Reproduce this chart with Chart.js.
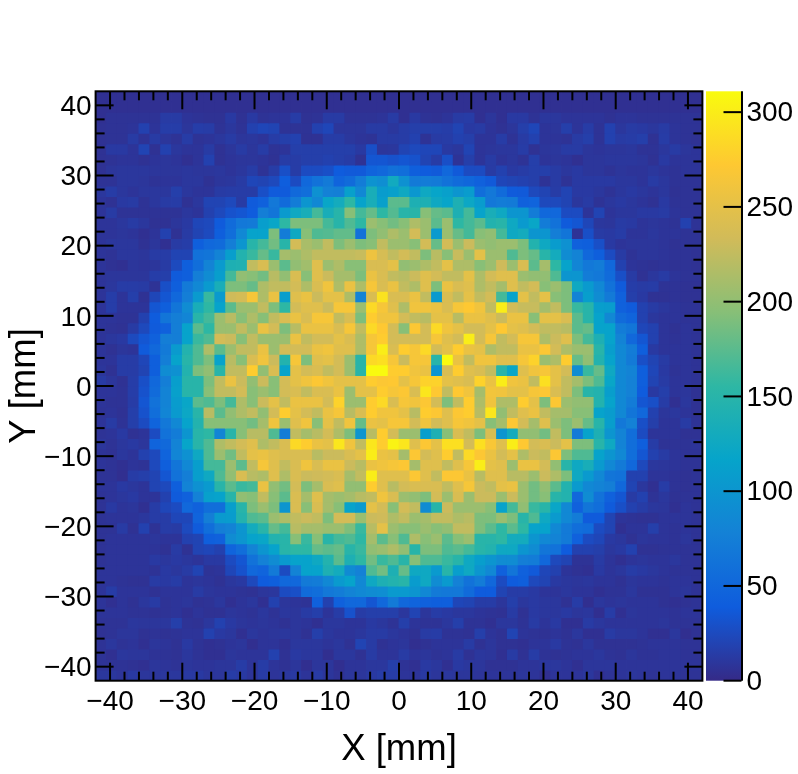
<!DOCTYPE html>
<html>
<head>
<meta charset="utf-8">
<script src="https://cdn.jsdelivr.net/npm/chart.js@4"></script>
<style>html,body{margin:0;padding:0;background:#fff}canvas{display:block}</style>
</head>
<body>
<canvas id="c" width="798" height="774"></canvas>
<script>
const binEdges = [-42,-40.5,-39,-37.5,-36,-34.5,-33,-31.5,-30,-28.5,-27,-25.5,-24,-22.5,-21,-19.5,-18,-16.5,-15,-13.5,-12,-10.5,-9,-7.5,-6,-4.5,-3,-1.5,0,1.5,3,4.5,6,7.5,9,10.5,12,13.5,15,16.5,18,19.5,21,22.5,24,25.5,27,28.5,30,31.5,33,34.5,36,37.5,39,40.5,42];
const majorTicks = [-40,-30,-20,-10,0,10,20,30,40];
const minorTicks = [-38,-36,-34,-32,-28,-26,-24,-22,-18,-16,-14,-12,-8,-6,-4,-2,2,4,6,8,12,14,16,18,22,24,26,28,32,34,36,38];
const colorTicks = [0,50,100,150,200,250,300];
const colorMax = 311;
const xTitle = "X [mm]";
const yTitle = "Y [mm]";
const paletteStops = ["#352a87","#0f5cdd","#1481d6","#06a4ca","#2eb7a4","#87bf77","#d1bb59","#fec832","#f9fb0e"];

// counts per row, top row (Y = +42) first; each row runs from X = -42 to X = +42
const row00 = [5,5,5,5,5,5,5,5,5,5,5,5,5,5,5,5,5,5,5,5,5,5,5,5,5,5,5,5, 5,5,5,5,5,5,5,5,5,5,5,5,5,5,5,5,5,5,5,5,5,5,5,5,5,5,5,5];
const row01 = [5,5,5,5,5,5,5,5,5,5,5,5,5,5,5,5,5,5,5,5,5,5,5,5,5,5,5,5, 5,5,5,5,5,5,5,5,5,5,5,5,5,5,5,5,5,5,5,5,5,5,5,5,5,5,5,5];
const row02 = [5,7,7,7,7,7,13,13,8,7,6,6,12,6,12,7,8,8,14,6,7,13,13,7,7,7,8,13, 5,12,7,6,8,13,14,5,9,5,12,12,7,10,10,8,8,8,8,6,8,8,7,7,7,7,7,7];
const row03 = [6,7,7,8,18,8,15,15,9,15,14,7,10,7,18,22,20,7,7,7,18,22,9,9,9,13,13,10, 14,16,16,16,15,20,12,13,8,6,9,16,22,8,9,16,8,14,7,18,10,13,12,10,13,8,7,7];
const row04 = [6,7,7,13,7,13,9,7,14,7,8,10,13,9,10,8,14,16,18,6,6,14,14,10,8,7,13,13, 14,18,7,13,14,18,16,8,8,14,7,13,18,8,8,7,13,16,7,18,13,14,16,6,14,8,7,6];
const row05 = [6,12,12,8,20,6,18,10,8,8,13,6,9,13,9,14,7,8,16,16,16,16,16,16,12,29,9,10, 20,24,22,22,12,10,20,8,9,10,10,14,6,9,10,13,13,9,8,9,9,10,7,7,10,13,9,8];
const row06 = [6,7,8,8,6,8,9,8,5,8,18,6,8,9,9,8,6,14,14,16,16,18,16,14,6,34,34,31, 34,31,20,14,29,7,16,8,13,8,10,7,16,8,9,8,5,9,9,10,10,10,9,6,12,8,8,8];
const row07 = [6,9,10,10,10,9,9,9,10,9,9,10,8,10,14,7,14,29,14,26,26,29,39,37,37,47,51,60, 58,42,39,37,51,37,26,26,13,18,12,14,16,16,13,10,12,9,9,7,9,8,8,10,8,7,8,8];
const row08 = [7,7,10,10,9,7,8,8,10,10,6,9,10,13,22,20,24,41,26,51,62,70,47,55,72,98,92,128, 95,70,72,70,62,55,50,44,37,22,20,18,16,7,13,7,12,12,12,12,10,10,8,13,10,7,7,7];
const row09 = [10,14,10,8,10,10,10,16,10,8,8,13,14,14,14,29,38,38,53,58,95,78,76,112,85,135,108,112, 125,102,125,118,112,100,108,58,68,55,38,37,24,20,14,20,12,12,10,7,10,12,10,8,10,6,7,7];
const row10 = [8,6,12,13,7,10,13,14,6,10,20,20,24,13,38,44,68,55,72,100,85,120,130,155,115,135,112,175, 175,140,140,125,118,140,122,108,68,72,70,44,47,24,24,20,10,13,7,10,12,10,8,6,12,7,7,7];
const row11 = [8,13,7,7,7,7,7,7,10,8,18,24,31,34,39,75,65,105,125,135,165,135,150,195,165,180,155,172, 150,150,195,180,175,140,165,115,135,125,100,100,72,51,51,26,26,8,20,8,10,10,12,12,13,8,7,7];
const row12 = [8,8,10,13,10,6,6,9,12,22,24,38,55,68,70,110,120,155,190,190,190,165,150,170,155,205,195,185, 195,215,205,175,205,155,165,175,145,150,125,105,120,72,62,38,34,22,10,9,13,12,8,9,8,7,18,7];
const row13 = [8,8,9,8,5,8,18,6,13,20,25,42,58,85,115,115,190,72,125,195,170,172,178,178,62,190,200,215, 205,235,205,105,205,180,165,195,200,165,125,130,100,100,75,65,7,29,13,12,14,8,8,10,8,8,7,7];
const row14 = [8,10,10,10,6,9,5,13,15,42,51,55,75,100,150,165,185,150,235,212,205,225,190,205,190,195,225,205, 205,195,235,180,235,205,230,205,200,205,205,190,145,125,108,95,44,42,29,12,8,9,9,9,8,6,7,7];
const row15 = [8,7,10,10,9,13,14,20,20,62,65,80,110,145,160,180,160,210,205,215,225,225,225,225,228,258,238,225, 235,225,190,220,195,228,205,250,205,205,170,190,180,150,130,90,80,51,42,26,13,7,9,9,8,7,7,6];
const row16 = [8,6,5,9,8,9,13,25,42,58,80,105,140,142,225,240,205,175,200,208,245,205,215,195,195,240,240,250, 200,205,215,225,250,215,215,195,205,232,205,240,175,210,155,115,82,68,72,51,18,8,7,6,7,6,7,6];
const row17 = [8,9,9,9,9,15,16,38,42,75,90,110,165,200,195,185,220,200,240,195,245,230,210,210,190,255,240,225, 220,230,245,235,225,225,250,215,235,245,245,205,200,200,170,100,100,72,68,55,29,13,6,10,13,8,7,7];
const row18 = [8,10,14,14,13,7,29,42,70,85,105,135,190,190,180,215,225,225,235,215,240,260,215,255,215,265,240,255, 225,215,245,190,255,240,245,215,225,210,245,225,235,195,205,190,125,105,85,62,38,15,13,14,7,7,6,6];
const row19 = [8,15,8,16,6,22,34,51,75,105,160,105,232,236,265,215,255,110,245,255,230,250,250,215,80,240,292,240, 240,255,225,105,240,225,250,225,235,165,115,250,225,250,195,190,80,110,90,70,44,16,12,6,6,7,6,6];
const row20 = [8,15,8,8,8,34,42,65,90,135,155,115,175,205,205,225,190,155,235,245,245,230,265,265,205,285,265,245, 215,260,260,255,240,265,272,260,225,300,235,228,228,210,225,190,160,150,110,108,44,38,18,13,10,8,7,7];
const row21 = [8,8,7,7,18,39,65,75,82,150,165,205,220,195,215,195,225,240,255,240,265,265,225,240,190,275,260,260, 235,225,220,250,250,220,255,255,245,230,255,255,195,250,250,240,175,150,115,85,55,47,18,10,8,8,7,7];
const row22 = [8,7,6,13,24,38,44,75,115,175,155,205,205,225,205,255,235,190,220,255,255,255,240,265,225,285,272,235, 195,270,235,285,260,250,235,235,250,272,250,245,235,225,225,220,175,180,115,115,72,65,22,18,8,6,8,7];
const row23 = [8,10,12,25,34,44,75,75,115,160,170,235,230,195,225,205,205,205,255,225,235,235,250,240,215,265,275,235, 235,235,235,265,245,235,300,235,265,225,235,265,265,215,230,245,190,165,140,115,80,51,34,18,8,7,8,7];
const row24 = [8,6,9,8,38,51,70,105,145,170,215,175,205,225,225,255,205,235,235,235,255,260,245,245,215,265,300,240, 275,265,285,235,250,275,255,250,215,225,225,255,255,270,235,215,205,205,150,110,85,72,42,12,8,8,8,7];
const row25 = [8,8,14,14,22,42,75,115,150,170,190,115,220,195,240,260,230,145,265,190,245,250,235,205,150,285,290,265, 230,265,265,150,310,255,225,260,260,245,245,265,280,205,215,275,180,200,145,115,85,70,29,20,13,8,8,7];
const row26 = [9,6,14,14,20,42,90,95,145,190,200,150,225,225,275,200,240,115,250,235,240,225,235,205,150,310,310,275, 275,260,255,100,240,275,245,240,225,150,120,245,260,265,250,235,90,160,180,125,85,80,42,22,12,7,8,7];
const row27 = [13,9,6,15,29,51,75,110,150,150,190,225,255,230,200,230,195,235,250,260,270,260,250,250,250,275,270,272, 250,265,280,280,250,245,240,280,255,300,260,255,225,290,250,225,210,190,170,120,85,78,42,20,13,8,8,7];
const row28 = [8,8,7,15,31,55,80,112,150,150,195,225,225,235,195,205,195,235,240,225,240,240,255,205,250,250,275,265, 270,240,295,272,225,272,260,210,262,260,250,250,265,270,240,225,190,150,145,110,85,78,39,12,16,8,9,6];
const row29 = [8,7,7,14,34,62,80,108,120,175,170,190,165,215,195,230,250,225,255,255,255,235,280,205,205,275,285,240, 265,260,270,235,190,225,275,215,260,215,215,275,250,190,270,205,200,200,145,115,85,72,34,29,14,5,10,6];
const row30 = [7,8,6,16,31,58,82,105,122,150,220,175,200,215,225,200,235,275,250,235,225,255,265,220,240,275,260,260, 250,220,275,270,245,270,275,220,295,200,225,245,255,225,210,210,195,195,115,108,85,65,51,18,9,10,8,6];
const row31 = [8,13,7,16,26,47,68,85,115,145,195,195,195,195,185,210,260,205,245,260,195,250,225,260,180,255,250,265, 265,235,260,235,245,265,260,250,195,210,270,235,210,245,205,190,205,180,150,110,68,78,29,16,8,8,13,7];
const row32 = [7,8,12,6,8,26,62,72,100,150,155,82,150,195,220,220,170,72,225,210,220,235,215,190,100,220,275,235, 205,205,110,140,195,240,225,190,240,100,130,200,200,185,225,190,70,115,140,100,80,58,26,8,8,8,6,6];
const row33 = [9,7,10,12,9,47,53,80,118,150,170,215,225,235,245,215,225,240,285,275,255,250,295,260,225,295,275,305, 295,245,270,250,290,290,235,290,268,245,300,272,235,240,230,250,190,190,150,125,80,58,42,14,7,7,7,8];
const row34 = [7,6,10,8,18,24,47,82,95,125,170,205,185,225,250,255,245,240,240,240,220,230,230,240,250,300,255,250, 210,270,235,245,275,225,285,270,255,235,250,215,230,225,270,190,170,170,115,100,85,58,34,18,13,8,7,7];
const row35 = [8,7,5,8,7,24,42,65,85,110,165,165,205,175,225,265,245,225,240,260,240,255,255,230,220,255,260,265, 270,210,245,245,225,245,265,300,250,245,205,255,255,235,200,150,125,135,105,85,70,51,24,10,9,8,7,7];
const row36 = [7,7,4,14,16,20,34,62,75,110,125,170,200,240,220,215,245,215,240,230,232,235,240,210,225,300,245,245, 245,270,245,225,270,270,255,220,245,245,220,220,205,230,215,190,125,105,85,65,62,18,18,8,8,7,6,7];
const row37 = [8,8,12,10,8,20,24,42,80,95,105,150,175,160,165,255,200,185,235,190,210,240,245,200,200,275,245,220, 235,240,240,240,225,245,265,230,225,250,255,205,185,200,175,145,105,85,80,75,51,20,10,5,14,7,6,7];
const row38 = [7,8,10,12,8,8,18,38,44,78,112,115,150,200,195,225,195,175,240,210,245,210,205,210,220,225,260,240, 205,200,190,235,205,240,205,230,230,205,230,205,185,195,150,145,51,90,62,44,34,13,18,7,10,6,7,7];
const row39 = [7,12,8,9,5,14,22,26,51,44,58,58,110,150,190,205,190,100,240,195,240,210,195,115,105,250,235,195, 235,225,90,150,230,205,205,205,195,115,165,200,160,150,120,85,44,65,58,38,29,18,14,10,9,5,8,7];
const row40 = [7,8,8,8,10,14,14,22,22,47,75,105,108,145,170,175,205,215,225,230,225,190,235,235,205,230,232,215, 225,205,210,225,225,215,220,190,190,205,190,150,170,125,105,85,72,38,38,20,8,7,6,6,8,8,8,7];
const row41 = [7,7,13,6,18,7,14,13,25,38,58,75,80,100,130,150,180,165,220,210,210,205,205,190,160,220,250,205, 195,195,205,195,200,225,225,190,175,155,175,155,115,115,85,70,58,55,26,20,5,8,8,16,8,7,8,7];
const row42 = [7,8,8,8,8,9,8,8,18,20,42,44,90,100,115,120,145,150,195,160,195,150,165,170,155,210,175,195, 170,215,195,205,175,195,205,150,150,155,130,130,100,85,80,70,44,26,22,12,10,6,9,8,8,7,9,7];
const row43 = [7,8,8,8,8,8,6,13,6,20,22,18,47,58,80,100,115,150,155,155,180,175,180,150,160,200,205,215, 200,150,190,190,170,175,165,150,145,125,125,100,90,65,62,39,18,18,16,10,12,18,6,6,7,7,7,7];
const row44 = [7,8,8,8,8,12,10,12,10,8,12,12,26,34,62,78,90,105,115,115,125,145,175,140,155,185,160,170, 150,195,170,170,160,150,125,110,100,90,90,75,72,51,24,20,7,7,13,8,5,8,9,8,8,10,7,7];
const row45 = [8,8,8,8,8,7,12,10,13,20,7,8,22,31,51,47,70,26,80,115,115,140,130,88,78,170,185,140, 180,125,125,105,150,110,125,100,85,44,65,44,37,22,18,8,6,5,12,8,10,14,12,10,8,7,7,7];
const row46 = [8,8,7,6,6,13,12,14,8,9,8,6,10,12,24,39,42,51,51,70,72,85,105,115,85,125,140,145, 150,108,125,90,105,78,62,72,51,26,39,42,24,20,12,10,9,10,8,8,6,9,8,8,7,8,8,7];
const row47 = [8,14,8,8,8,6,8,8,8,13,9,8,8,7,6,9,10,26,29,55,58,68,72,80,85,90,92,105, 105,100,85,70,68,68,55,39,39,20,14,14,12,8,8,10,8,8,5,7,7,10,6,6,6,8,9,7];
const row48 = [8,5,8,6,10,13,7,8,9,6,7,10,5,8,10,5,18,9,8,7,44,18,44,51,51,34,51,70, 51,47,44,42,42,22,20,14,14,9,16,10,12,10,10,6,14,4,10,8,9,8,8,8,6,5,6,7];
const row49 = [8,8,8,7,7,6,7,8,5,8,6,6,9,8,7,10,7,10,9,13,16,8,14,31,14,16,16,16, 10,20,9,14,12,10,10,8,7,6,13,6,12,10,10,12,9,10,4,14,5,9,8,8,8,7,8,8];
const row50 = [7,7,7,10,9,9,10,16,7,6,10,18,12,9,8,9,8,6,9,8,5,10,10,8,8,12,10,7, 16,8,7,7,10,16,7,7,5,10,10,7,13,8,12,5,5,13,10,8,8,8,8,8,9,7,7,7];
const row51 = [6,7,9,9,6,7,6,7,8,8,18,12,10,5,10,8,9,10,9,6,16,10,8,8,10,13,13,10, 8,6,13,14,7,7,6,16,8,6,20,8,7,6,8,6,10,5,5,13,10,10,8,5,5,10,4,6];
const row52 = [7,10,7,8,5,9,8,6,12,7,5,6,8,9,4,8,8,5,10,10,10,8,10,6,20,13,6,8, 9,4,6,8,8,8,13,6,9,6,6,5,8,8,12,7,6,10,6,6,6,6,7,8,8,8,7,7];
const row53 = [7,5,10,9,9,7,7,6,10,7,5,5,9,8,8,8,18,6,12,10,10,4,10,10,6,13,8,8, 13,8,9,7,8,13,6,10,9,5,13,6,14,7,6,7,8,8,10,7,6,9,7,7,8,8,7,7];
const row54 = [7,7,7,6,5,9,8,7,9,8,8,9,9,14,8,14,8,6,9,4,9,9,4,8,8,10,10,16, 7,5,12,10,5,12,10,9,6,6,6,8,8,10,10,8,5,9,9,9,8,8,8,8,8,8,8,8];
const row55 = [10,10,8,12,9,9,10,10,12,12,9,9,14,12,8,13,8,10,12,8,13,9,6,9,9,12,14,14, 8,8,12,9,10,9,9,8,8,8,8,9,8,4,8,8,8,10,5,7,8,9,8,7,8,8,7,7];

const rows = [row00,row01,row02,row03,row04,row05,row06,row07,row08,row09,row10,row11,row12,row13,row14,row15,row16,row17,row18,row19,row20,row21,row22,row23,row24,row25,row26,row27,row28,row29,row30,row31,row32,row33,row34,row35,row36,row37,row38,row39,row40,row41,row42,row43,row44,row45,row46,row47,row48,row49,row50,row51,row52,row53,row54,row55];

function hexToRgb(h){return [parseInt(h.slice(1,3),16),parseInt(h.slice(3,5),16),parseInt(h.slice(5,7),16)];}
const paletteRgb = paletteStops.map(hexToRgb);
function colorFor(v){
  const t = Math.max(0,Math.min(1,v/colorMax))*(paletteRgb.length-1);
  const i = Math.min(paletteRgb.length-2,Math.floor(t));
  const f = t-i;
  const a = paletteRgb[i], b = paletteRgb[i+1];
  return `rgb(${a.map((c,k)=>Math.round(c+(b[k]-c)*f)).join(',')})`;
}
const fontFamily = '"Liberation Sans", Arial, Helvetica, sans-serif';
const datasets = rows.map((row,r)=>{
  const top = binEdges[binEdges.length-1-r], bottom = binEdges[binEdges.length-2-r];
  return {
    data: row.map((v,i)=>({x:(binEdges[i]+binEdges[i+1])/2, y:[bottom,top], v})),
    backgroundColor: ctx => ctx.raw ? colorFor(ctx.raw.v) : 'transparent',
    borderWidth: 0,
    barPercentage: 1,
    categoryPercentage: 1,
    grouped: false,
    inflateAmount: 0.4,
    xAxisID: 'x',
    yAxisID: 'y'
  };
});
const minusLabel = v => String(v).replace('-','\u2212');
const frameTicks = {
  id:'frameTicks',
  afterDraw(chart){
    const {ctx,chartArea:a,scales} = chart;
    ctx.save();
    ctx.strokeStyle='#000';
    ctx.lineWidth=2;
    ctx.strokeRect(a.left,a.top,a.right-a.left,a.bottom-a.top);
    const mark=(x1,y1,x2,y2)=>{ctx.beginPath();ctx.moveTo(x1,y1);ctx.lineTo(x2,y2);ctx.stroke();};
    const draw=(list,len)=>list.forEach(v=>{
      const px=scales.x.getPixelForValue(v), py=scales.y.getPixelForValue(v);
      mark(px,a.bottom,px,a.bottom-len); mark(px,a.top,px,a.top+len);
      mark(a.left,py,a.left+len,py); mark(a.right,py,a.right-len,py);
    });
    draw(majorTicks,18); draw(minorTicks,9);
    // colour bar
    const z=scales.z, barL=a.right+3.6, barR=741.5;
    const g=ctx.createLinearGradient(0,z.getPixelForValue(0),0,z.getPixelForValue(colorMax));
    paletteStops.forEach((c,i)=>g.addColorStop(i/(paletteStops.length-1),c));
    ctx.fillStyle=g;
    ctx.fillRect(barL,a.top,barR-barL,a.bottom-a.top);
    mark(barR+0.5,a.top,barR+0.5,a.bottom);
    colorTicks.forEach(v=>{const p=z.getPixelForValue(v);mark(barR,p,barR-18,p);});
    ctx.restore();
  }
};
const tickFont = {family:fontFamily,size:28};
const titleFont = {family:fontFamily,size:36.5};
const setTicks = list => s => { s.ticks = list.map(value=>({value})); };
new Chart(document.getElementById('c'),{
  type:'bar',
  data:{datasets},
  plugins:[frameTicks],
  options:{
    responsive:false,
    animation:false,
    devicePixelRatio:1,
    layout:{padding:{top:91.3,left:0,right:0,bottom:0}},
    plugins:{legend:{display:false},tooltip:{enabled:false},title:{display:false}},
    scales:{
      x:{type:'linear',position:'bottom',min:-42,max:42,offset:false,stacked:false,
        grid:{display:false,offset:false},border:{display:false},
        afterBuildTicks:setTicks(majorTicks),
        afterFit(s){s.height=93.3;},
        ticks:{color:'#000',font:tickFont,padding:-3,maxRotation:0,autoSkip:false,callback:minusLabel},
        title:{display:true,text:xTitle,color:'#000',font:titleFont,padding:{top:0,bottom:2}}},
      y:{type:'linear',position:'left',min:-42,max:42,
        grid:{display:false},border:{display:false},
        afterBuildTicks:setTicks(majorTicks),
        afterFit(s){s.width=95.6;},
        ticks:{color:'#000',font:tickFont,padding:-4,labelOffset:2,autoSkip:false,callback:minusLabel},
        title:{display:true,text:yTitle,color:'#000',font:titleFont,padding:{top:3,bottom:0}}},
      z:{type:'linear',position:'right',min:0,max:colorMax,
        grid:{display:false},border:{display:false},
        afterBuildTicks:setTicks(colorTicks),
        afterFit(s){s.width=95.6;},
        ticks:{color:'#000',font:tickFont,padding:36,labelOffset:1.5,autoSkip:false}}
    }
  }
});
</script>
</body>
</html>
